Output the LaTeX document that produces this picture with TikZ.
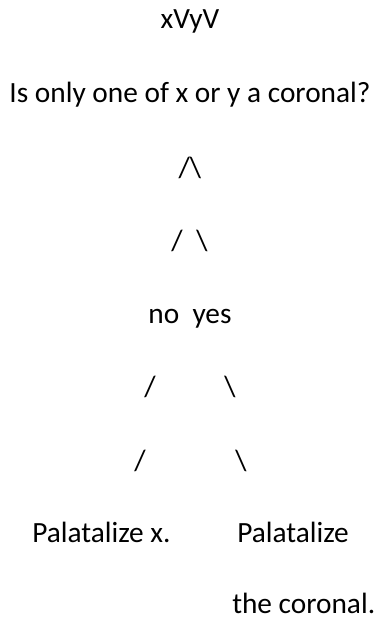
\documentclass[tikz,border=0pt]{standalone}
\usepackage{fontspec}
\setmainfont{Carlito}
\usepackage{xcolor}
\usetikzlibrary{positioning}
\definecolor{inkblack}{HTML}{000000}

\begin{document}
\begin{tikzpicture}[
  x=0.75pt,
  y=-0.75pt,
  font=\fontsize{22}{26}\selectfont,
  txt/.style={inner sep=0pt, anchor=base, text=inkblack},
  lefttxt/.style={txt, anchor=base west},
  stroke/.style={txt}
]
\useasboundingbox (0,0) rectangle (374,620);

\node[txt] (word) at (190,29) {xVyV};
\node[txt] (question) at (190,103) {Is only one of x or y a coronal?};

\node[stroke] (fork) at (190,178) {/\textbackslash};
\node[stroke] (forkl) at (177,250) {/};
\node[stroke] (forkr) at (202,250) {\textbackslash};

\node[txt] (answers) at (190,323) {no\ \ yes};

\node[stroke] (nol) at (150,396) {/};
\node[stroke] (yesr) at (230,396) {\textbackslash};
\node[stroke] (nolow) at (140,470) {/};
\node[stroke] (yeslow) at (241,470) {\textbackslash};

\node[lefttxt] (palx) at (32,542) {Palatalize x.};
\node[lefttxt] (palcor) at (237,542) {Palatalize};
\node[lefttxt] (coronal) at (232,613) {the coronal.};

\end{tikzpicture}
\end{document}
